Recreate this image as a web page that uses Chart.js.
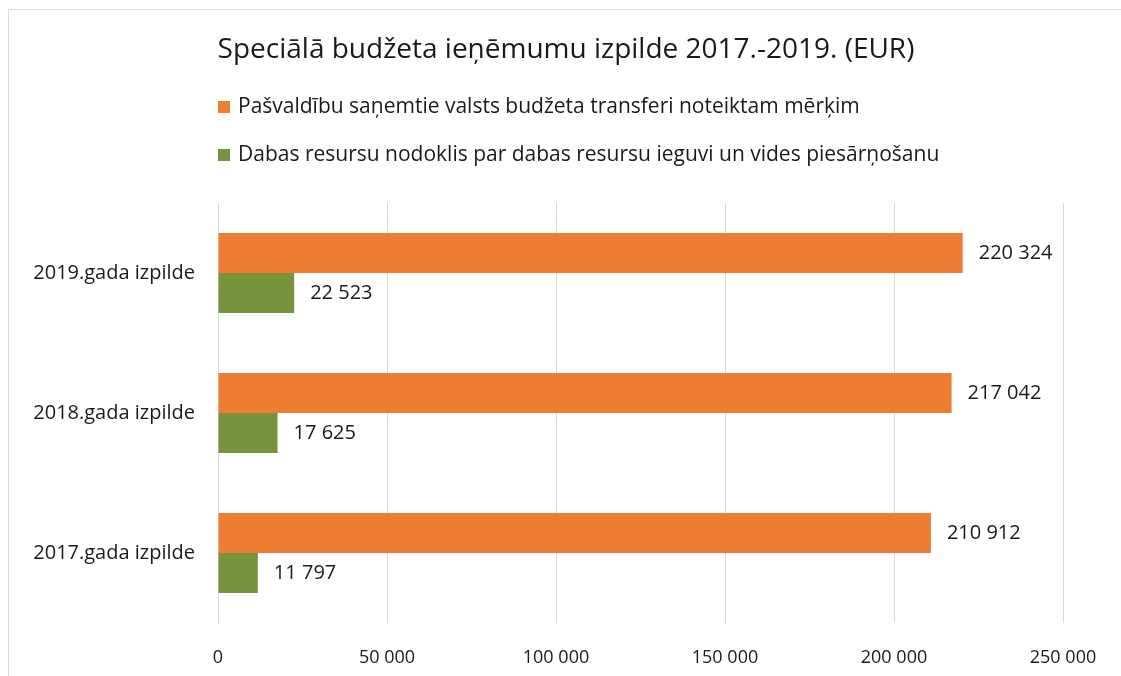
<!DOCTYPE html>
<html>
<head>
<meta charset="utf-8">
<script src="https://cdn.jsdelivr.net/npm/chart.js@4"></script>
<style>
  html, body { margin: 0; padding: 0; background: #fff; overflow: hidden; }
  #frame {
    position: absolute; left: 8px; top: 9px; right: -10px; bottom: -10px;
    border-left: 1px solid #d9d9d9; border-top: 1px solid #d9d9d9;
  }
  #wrap { position: absolute; left: 0; top: 0; width: 1121px; height: 676px; }
</style>
</head>
<body>
<div id="frame"></div>
<div id="wrap"><canvas id="chart"></canvas></div>
<script>
var CATEGORIES = ["2019.gada izpilde", "2018.gada izpilde", "2017.gada izpilde"];
var TRANSFERS = [220324, 217042, 210912];
var RESOURCE_TAX = [22523, 17625, 11797];
var SERIES_NAMES = [
  "Pašvaldību saņemtie valsts budžeta transferi noteiktam mērķim",
  "Dabas resursu nodoklis par dabas resursu ieguvi un vides piesārņošanu"
];
var SERIES_COLORS = ["#ed7d31", "#77933c"];
var X_TICKS = [0, 50000, 100000, 150000, 200000, 250000];
var TITLE = "Speciālā budžeta ieņēmumu izpilde 2017.-2019. (EUR)";

var FONT = "'Open Sans', Carlito, Calibri, sans-serif";
var TEXT = "#1a1a1a";

function fmt(v) {
  return String(v).replace(/\B(?=(\d{3})+(?!\d))/g, " ");
}

// title and legend drawn by hand so they sit where the original has them
var headerPlugin = {
  id: "header",
  afterDraw: function (chart) {
    var ctx = chart.ctx;
    var x = chart.chartArea.left;
    var rows = [107, 155];
    ctx.save();
    ctx.fillStyle = TEXT;
    ctx.textBaseline = "middle";
    ctx.textAlign = "center";
    ctx.font = "28px " + FONT;
    ctx.fillText(TITLE, 566, 50);

    ctx.font = "21px " + FONT;
    ctx.textAlign = "left";
    chart.data.datasets.forEach(function (ds, i) {
      ctx.fillStyle = ds.backgroundColor;
      ctx.fillRect(x, rows[i] - 6, 12, 12);
      ctx.fillStyle = TEXT;
      ctx.fillText(ds.label, x + 20, rows[i]);
    });
    ctx.restore();
  }
};

var valueLabels = {
  id: "valueLabels",
  afterDatasetsDraw: function (chart) {
    var ctx = chart.ctx;
    ctx.save();
    ctx.font = "20px " + FONT;
    ctx.fillStyle = TEXT;
    ctx.textBaseline = "middle";
    ctx.textAlign = "left";
    chart.data.datasets.forEach(function (ds, i) {
      chart.getDatasetMeta(i).data.forEach(function (bar, j) {
        ctx.fillText(fmt(ds.data[j]), bar.x + 16, bar.y);
      });
    });
    ctx.restore();
  }
};

new Chart(document.getElementById("chart"), {
  type: "bar",
  data: {
    labels: CATEGORIES,
    datasets: [
      { label: SERIES_NAMES[0], data: TRANSFERS, backgroundColor: SERIES_COLORS[0] },
      { label: SERIES_NAMES[1], data: RESOURCE_TAX, backgroundColor: SERIES_COLORS[1] }
    ]
  },
  options: {
    indexAxis: "y",
    responsive: true,
    maintainAspectRatio: false,
    animation: false,
    categoryPercentage: 0.571,
    barPercentage: 1,
    layout: { padding: { left: 0, right: 58, top: 203, bottom: 0 } },
    plugins: {
      legend: { display: false },
      tooltip: { enabled: false },
      title: { display: false }
    },
    scales: {
      x: {
        min: 0,
        max: 250000,
        afterBuildTicks: function (scale) {
          scale.ticks = X_TICKS.map(function (v) { return { value: v }; });
        },
        afterFit: function (scale) { scale.height = 53; },
        border: { display: false },
        grid: { color: "#d9d9d9", lineWidth: 1, drawTicks: false },
        ticks: {
          padding: 24,
          color: TEXT,
          font: { family: FONT, size: 18 },
          maxRotation: 0,
          callback: function (v) { return fmt(v); }
        }
      },
      y: {
        afterFit: function (scale) { scale.width = 218; },
        border: { display: false },
        grid: { display: false, drawTicks: false },
        ticks: {
          padding: 23,
          color: TEXT,
          font: { family: FONT, size: 20 }
        }
      }
    }
  },
  plugins: [headerPlugin, valueLabels]
});
</script>
</body>
</html>
